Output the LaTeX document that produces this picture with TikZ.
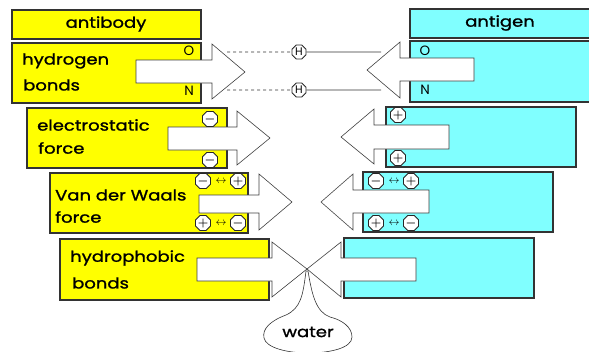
\documentclass[tikz,border=0pt]{standalone}
\usepackage{fontspec}
\setmainfont{Poppins}[FakeStretch=1.2, FakeBold=1.3]
\newfontfamily\atomfont{Poppins}
\usetikzlibrary{shapes.geometric}
\definecolor{ygold}{RGB}{255,255,0}
\definecolor{cyanl}{RGB}{128,255,255}
\begin{document}
\begin{tikzpicture}[x=1pt,y=-1pt,
  box/.style={draw=black!80, line width=1.1pt, anchor=north west, inner sep=0pt, outer sep=0pt},
  abox/.style={box, fill=ygold},
  gbox/.style={box, fill=cyanl},
  barrow/.style={draw=black!75, fill=white, line width=0.6pt},
  lbl/.style={anchor=west, inner sep=0pt, font=\fontsize{15}{15}\selectfont},
  ttl/.style={inner sep=0pt, font=\fontsize{15}{15}\selectfont},
  atom/.style={inner sep=0pt, font=\atomfont\fontsize{13.5}{13.5}\selectfont},
  oct/.style={regular polygon, regular polygon sides=8, draw=black!85, fill=white, line width=0.8pt, inner sep=0pt, minimum size=15pt, font=\fontsize{12}{12}\selectfont\boldmath},
  dbl/.style={inner sep=0pt, font=\fontsize{11}{11}\selectfont},
  bubble/.style={draw=black!80, fill=white, line width=0.6pt}]
\useasboundingbox (0,0) rectangle (589,351);
\clip (0,0) rectangle (589,351);

% ---- boxes ----
\node[abox, minimum width=189pt, minimum height=29pt] (antibody) at (12,10) {};
\node[gbox, minimum width=190pt, minimum height=29pt] (antigen) at (410,9) {};
\node[abox, minimum width=189pt, minimum height=60pt] (hA) at (12,43) {};
\node[gbox, minimum width=190pt, minimum height=61pt] (hG) at (410,41) {};
\node[abox, minimum width=200pt, minimum height=60pt] (eA) at (27,108) {};
\node[gbox, minimum width=190pt, minimum height=60pt] (eG) at (386,107) {};
\node[abox, minimum width=198pt, minimum height=60pt] (vA) at (50,173) {};
\node[gbox, minimum width=190pt, minimum height=60pt] (vG) at (363,172) {};
\node[abox, minimum width=209pt, minimum height=61pt] (pA) at (60,239) {};
\node[gbox, minimum width=190pt, minimum height=60pt] (pG) at (344,238) {};

% ---- titles and labels ----
\node[ttl] (t1) at (106,24) {antibody};
\node[ttl] (t2) at (500,23) {antigen};
\node[lbl] (l1) at (22,61) {hydrogen};
\node[lbl] (l2) at (23,85) {bonds};
\node[lbl] (l3) at (37,125) {electrostatic};
\node[lbl] (l4) at (38,148) {force};
\node[lbl] (l5) at (55,195) {Van der Waals};
\node[lbl] (l6) at (55,217) {force};
\node[lbl] (l7) at (70,258) {hydrophobic};
\node[lbl] (l8) at (72,283) {bonds};

% ---- arrows ----
% hydrogen bonds
\draw[barrow] (136,60) -- (212,60) -- (212,44) -- (245,72) -- (212,99) -- (212,83) -- (136,83) -- cycle;
\draw[barrow] (474,58) -- (400,58) -- (400,42) -- (367,70) -- (400,98) -- (400,81) -- (474,81) -- cycle;
% electrostatic
\draw[barrow] (168,127) -- (237,127) -- (237,111) -- (270,138) -- (237,165) -- (237,150) -- (168,150) -- cycle;
\draw[barrow] (449,125) -- (374,125) -- (374,109) -- (341,137) -- (374,164) -- (374,149) -- (449,149) -- cycle;
% van der waals
\draw[barrow] (199,195) -- (259,195) -- (259,174) -- (292,202) -- (259,230) -- (259,213) -- (199,213) -- cycle;
\draw[barrow] (429,190) -- (353,190) -- (353,174) -- (321,202) -- (353,230) -- (353,213) -- (429,213) -- cycle;
% hydrophobic
\draw[barrow] (197,258) -- (272,258) -- (272,242) -- (307,269) -- (272,297) -- (272,281) -- (197,281) -- cycle;
\draw[barrow] (416,258) -- (341,258) -- (341,242) -- (307,269) -- (341,297) -- (341,281) -- (416,281) -- cycle;

% ---- hydrogen bond atoms ----
\node[atom] (oA) at (189,51) {O};
\node[atom] (nA) at (189,91) {N};
\node[atom] (oG) at (425,51) {O};
\node[atom] (nG) at (425,90) {N};
\node[oct] (H1) at (299,52) {\atomfont\fontsize{11}{11}\selectfont H};
\node[oct] (H2) at (299,90) {\atomfont\fontsize{11}{11}\selectfont H};
\coordinate (d1) at (227,52);
\coordinate (d2) at (227,90);
\coordinate (s1) at (381,52);
\coordinate (s2) at (381,90);
\draw[dashed, black!80, line width=0.6pt] (d1) -- (H1.west);
\draw[dashed, black!80, line width=0.6pt] (d2) -- (H2.west);
\draw[black!80, line width=0.6pt] (H1.east) -- (s1);
\draw[black!80, line width=0.6pt] (H2.east) -- (s2);

% ---- electrostatic charges ----
\node[oct] (e1) at (210,119) {$-$};
\node[oct] (e2) at (210,160) {$-$};
\node[oct] (e3) at (398,115) {$+$};
\node[oct] (e4) at (398,158) {$+$};

% ---- van der waals charges ----
\node[oct] (v1) at (203,181) {$-$};
\node[dbl] (v2) at (221,181) {$\leftrightarrow$};
\node[oct] (v3) at (238,181) {$+$};
\node[oct] (v4) at (203,223) {$+$};
\node[dbl] (v5) at (221,223) {$\leftrightarrow$};
\node[oct] (v6) at (238,223) {$-$};
\node[oct] (w1) at (376,181) {$-$};
\node[dbl] (w2) at (394,181) {$\leftrightarrow$};
\node[oct] (w3) at (411,181) {$+$};
\node[oct] (w4) at (376,223) {$+$};
\node[dbl] (w5) at (394,223) {$\leftrightarrow$};
\node[oct] (w6) at (411,223) {$-$};

% ---- water bubble ----
\draw[bubble] (306,271) .. controls (303,295) and (301,308) .. (286,315)
  .. controls (270,321) and (262,329) .. (264,338)
  .. controls (266,348) and (288,353) .. (308,353)
  .. controls (330,353) and (352,348) .. (352,337)
  .. controls (352,327) and (342,320) .. (330,317)
  .. controls (316,312) and (312,295) .. (308,271) -- cycle;
\node[ttl] (water) at (308,332) {water};
\end{tikzpicture}
\end{document}
